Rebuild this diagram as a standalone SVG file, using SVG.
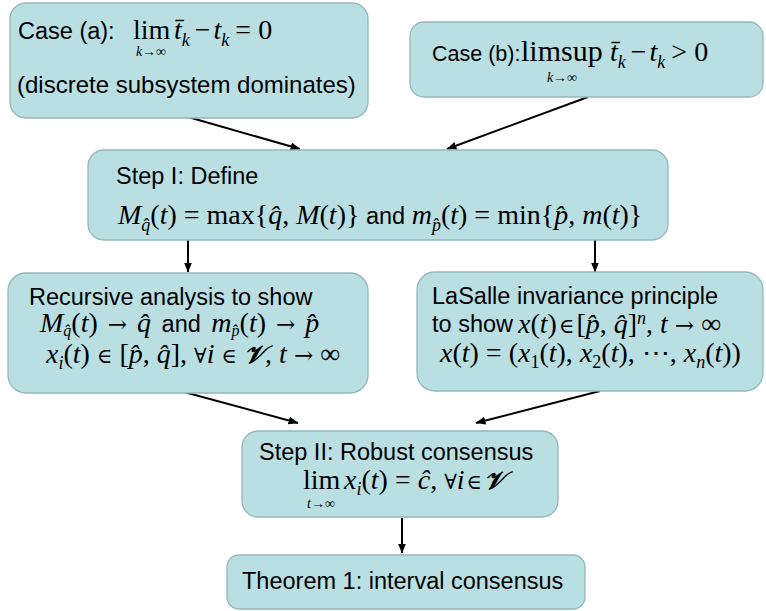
<svg xmlns="http://www.w3.org/2000/svg" width="766" height="611" viewBox="0 0 766 611">
  <defs>
    <marker id="arrow" markerUnits="userSpaceOnUse" markerWidth="10" markerHeight="8" refX="9.5" refY="4" orient="auto">
      <path d="M0,0 L10,4 L0,8 Z" fill="#000"/>
    </marker>
    <style>
      .box { fill:#badfe3; stroke:#93b8bc; stroke-width:1.3; }
      .sans { font-family:"Liberation Sans", Arial, sans-serif; font-size:23.5px; fill:#000; }
      .m { font-family:"Liberation Serif", "Times New Roman", serif; font-size:28px; fill:#000; }
      .i { font-style:italic; }
      .sub { font-size:18px; }
      .sub2 { font-size:16px; }
      .lim { font-size:14px; }
      .sym { font-family:"DejaVu Serif", serif; font-size:21px; font-style:normal; }
      .ar { font-family:"DejaVu Serif", serif; font-size:23px; font-style:normal; }
      .scr { font-family:"DejaVu Serif", "DejaVu Sans", serif; font-style:italic; font-weight:bold; font-size:25px; }
      .conn line { stroke:#000; stroke-width:2; marker-end:url(#arrow); }
    </style>
  </defs>

  <rect width="766" height="611" fill="#fff"/>

  <!-- connectors -->
  <g id="connectors" class="conn">
    <line x1="188" y1="117" x2="300" y2="149"/>
    <line x1="588" y1="97" x2="447" y2="149"/>
    <line x1="188" y1="240" x2="188" y2="272"/>
    <line x1="595" y1="240" x2="595" y2="272"/>
    <line x1="184" y1="392" x2="298" y2="423"/>
    <line x1="600" y1="391" x2="476" y2="423"/>
    <line x1="402" y1="518" x2="402" y2="553"/>
  </g>

  <!-- case (a) -->
  <g id="case-a">
    <rect class="box" x="10" y="3" width="358" height="115" rx="16"/>
    <text class="sans" x="18" y="39">Case (a):</text>
    <text class="m" x="133" y="39">lim</text>
    <text class="m lim" x="151" y="56" text-anchor="middle"><tspan class="i">k</tspan>→∞</text>
    <text class="m" y="39"><tspan class="i" x="174">t&#x304;</tspan><tspan class="i sub" dy="7">k</tspan><tspan dy="-7" dx="5">−</tspan><tspan class="i" dx="3">t</tspan><tspan class="i sub" dy="7">k</tspan><tspan dy="-7" dx="6">=</tspan><tspan dx="7">0</tspan></text>
    <text class="sans" x="17" y="93" style="font-size:24px">(discrete subsystem dominates)</text>
  </g>

  <!-- case (b) -->
  <g id="case-b">
    <rect class="box" x="410" y="22" width="353" height="75" rx="14"/>
    <text class="sans" x="432" y="61" style="font-size:21.5px">Case (b):</text>
    <text class="m" x="521" y="61" style="font-size:30px">limsup</text>
    <text class="m lim" x="562" y="82" text-anchor="middle"><tspan class="i">k</tspan>→∞</text>
    <text class="m" y="61"><tspan class="i" x="610">t&#x304;</tspan><tspan class="i sub" dy="7">k</tspan><tspan dy="-7" dx="5">−</tspan><tspan class="i" dx="3">t</tspan><tspan class="i sub" dy="7">k</tspan><tspan dy="-7" dx="6">&gt;</tspan><tspan dx="7">0</tspan></text>
  </g>

  <!-- step I -->
  <g id="step-1">
    <rect class="box" x="88" y="150" width="580" height="90" rx="16"/>
    <text class="sans" x="116" y="184">Step I: Define</text>
    <text class="m" x="118" y="224"><tspan class="i">M</tspan><tspan class="i sub" dy="7">q&#x302;</tspan><tspan dy="-7">(<tspan class="i">t</tspan>) = max{<tspan class="i">q&#x302;</tspan>, <tspan class="i">M</tspan>(<tspan class="i">t</tspan>)}</tspan><tspan class="sans"> and  </tspan><tspan class="i">m</tspan><tspan class="i sub" dy="7">p&#x302;</tspan><tspan dy="-7">(<tspan class="i">t</tspan>) = min{<tspan class="i">p&#x302;</tspan>, <tspan class="i">m</tspan>(<tspan class="i">t</tspan>)}</tspan></text>
  </g>

  <!-- recursive analysis -->
  <g id="recursive">
    <rect class="box" x="8" y="273" width="360" height="120" rx="18"/>
    <text class="sans" x="29" y="305">Recursive analysis to show</text>
    <text class="m" x="40" y="332"><tspan class="i">M</tspan><tspan class="i sub2" dy="4">q&#x302;</tspan><tspan dy="-4">(<tspan class="i">t</tspan>) <tspan class="ar" dx="3">→</tspan> <tspan class="i" dx="3">q&#x302;</tspan></tspan><tspan class="sans" dx="4"> and  </tspan><tspan class="i" dx="4">m</tspan><tspan class="i sub2" dy="4">p&#x302;</tspan><tspan dy="-4">(<tspan class="i">t</tspan>) <tspan class="ar" dx="3">→</tspan> <tspan class="i" dx="3">p&#x302;</tspan></tspan></text>
    <text class="m" x="46" y="363"><tspan class="i">x</tspan><tspan class="i sub" dy="6">i</tspan><tspan dy="-6">(<tspan class="i">t</tspan>) <tspan class="sym">∈</tspan> [<tspan class="i">p&#x302;</tspan>, <tspan class="i">q&#x302;</tspan>], <tspan class="sym">∀</tspan><tspan class="i">i</tspan> <tspan class="sym">∈</tspan> <tspan class="scr">𝒱</tspan>, <tspan class="i">t</tspan> <tspan class="ar">→</tspan> ∞</tspan></text>
  </g>

  <!-- LaSalle -->
  <g id="lasalle">
    <rect class="box" x="417" y="272" width="346" height="119" rx="18"/>
    <text class="sans" x="432" y="304">LaSalle invariance principle</text>
    <text class="sans" x="432" y="332">to show</text>
    <text class="m" x="518" y="333"><tspan class="i">x</tspan>(<tspan class="i">t</tspan>)<tspan class="sym" dx="2">∈</tspan><tspan dx="2">[</tspan><tspan class="i">p&#x302;</tspan>, <tspan class="i">q&#x302;</tspan>]<tspan class="i sub" dy="-9">n</tspan><tspan dy="9">, <tspan class="i">t</tspan> <tspan class="ar">→</tspan> ∞</tspan></text>
    <text class="m" x="440" y="362"><tspan class="i">x</tspan>(<tspan class="i">t</tspan>) = (<tspan class="i">x</tspan><tspan class="sub" dy="6">1</tspan><tspan dy="-6">(<tspan class="i">t</tspan>), <tspan class="i">x</tspan></tspan><tspan class="sub" dy="6">2</tspan><tspan dy="-6">(<tspan class="i">t</tspan>), ⋯, <tspan class="i">x</tspan></tspan><tspan class="i sub" dy="6">n</tspan><tspan dy="-6">(<tspan class="i">t</tspan>))</tspan></text>
  </g>

  <!-- step II -->
  <g id="step-2">
    <rect class="box" x="242" y="431" width="316" height="86" rx="16"/>
    <text class="sans" x="259" y="460">Step II: Robust consensus</text>
    <text class="m" x="303" y="489">lim</text>
    <text class="m lim" x="321" y="508" text-anchor="middle"><tspan class="i">t</tspan>→∞</text>
    <text class="m" x="344" y="489"><tspan class="i">x</tspan><tspan class="i sub" dy="6">i</tspan><tspan dy="-6">(<tspan class="i">t</tspan>) = <tspan class="i">ĉ</tspan>, <tspan class="sym">∀</tspan><tspan class="i">i</tspan><tspan class="sym" dx="2">∈</tspan><tspan class="scr" dx="2">𝒱</tspan></tspan></text>
  </g>

  <!-- theorem -->
  <g id="theorem">
    <rect class="box" x="227" y="555" width="358" height="54" rx="12"/>
    <text class="sans" x="242" y="589">Theorem 1: interval consensus</text>
  </g>
</svg>
